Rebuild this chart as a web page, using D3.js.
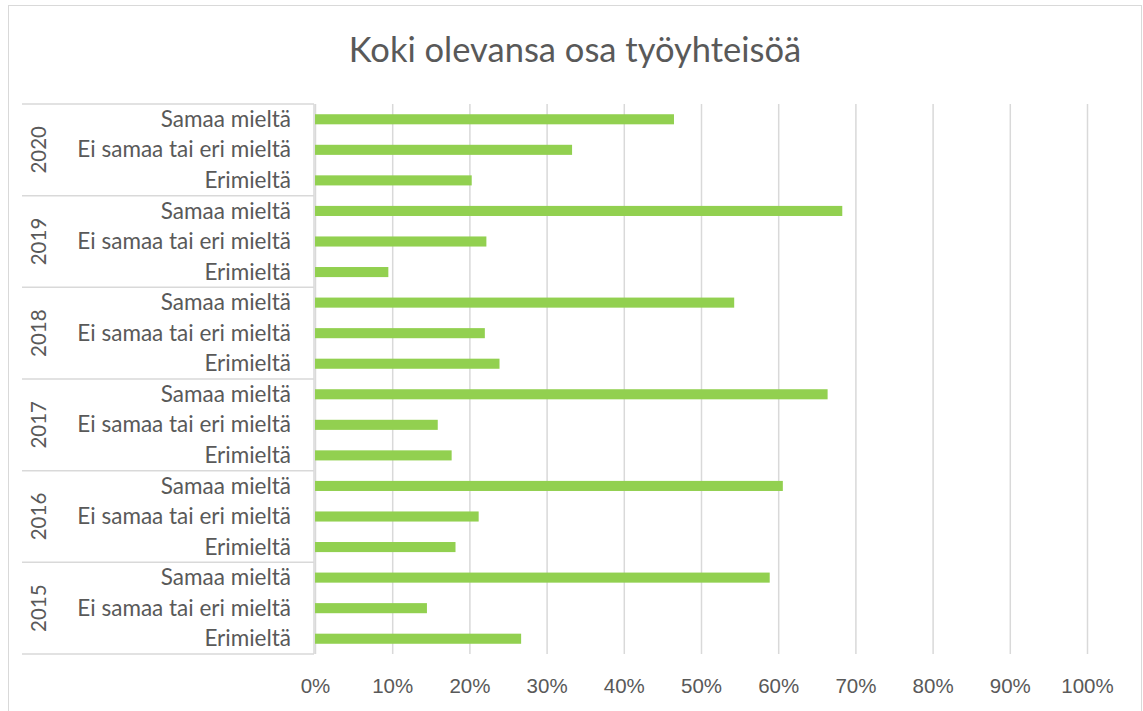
<!DOCTYPE html>
<html>
<head>
<meta charset="utf-8">
<script src="https://cdn.jsdelivr.net/npm/d3@7"></script>
<style>
  body { margin: 0; background: #fff; }
  svg { display: block; font-family: Lato, "Open Sans", sans-serif; }
</style>
</head>
<body>
<svg id="chart" width="1143" height="711"></svg>
<script>
const title = 'Koki olevansa osa työyhteisöä';
const years = ['2020', '2019', '2018', '2017', '2016', '2015'];
const answers = ['Samaa mieltä', 'Ei samaa tai eri mieltä', 'Erimieltä'];
// shares per year, same order as answers
const values = {
  2020: [0.465, 0.333, 0.203],
  2019: [0.683, 0.222, 0.095],
  2018: [0.543, 0.220, 0.239],
  2017: [0.664, 0.159, 0.177],
  2016: [0.606, 0.212, 0.182],
  2015: [0.589, 0.145, 0.267],
};
const xTicks = [0, 0.1, 0.2, 0.3, 0.4, 0.5, 0.6, 0.7, 0.8, 0.9, 1];

const svg = d3.select('#chart');
const W = 1143, H = 711;
const plot = { left: 315, right: 1087, top: 104, bottom: 654 };
const grey = '#d9d9d9';
const textCol = '#595959';

const rows = [];
years.forEach((y) => answers.forEach((a, i) => rows.push({ year: y, answer: a, value: values[y][i], key: y + '|' + a })));

const x = d3.scaleLinear().domain([0, 1]).range([plot.left, plot.right]);
const yBand = d3.scaleBand().domain(rows.map((r) => r.key)).range([plot.top, plot.bottom]).paddingInner(0.67).paddingOuter(0.335);
const yYear = d3.scaleBand().domain(years).range([plot.top, plot.bottom]);

// chart border
svg.append('rect')
  .attr('x', 8.5).attr('y', 5.5).attr('width', W - 10).attr('height', H + 10)
  .attr('fill', 'none').attr('stroke', grey);

svg.append('text')
  .attr('x', 575).attr('y', 62)
  .attr('text-anchor', 'middle')
  .attr('fill', textCol)
  .attr('font-size', 34.5)
  .text(title);

// gridlines + tick labels
const xAxis = d3.axisBottom(x).tickValues(xTicks).tickFormat(d3.format('.0%')).tickSize(-(plot.bottom - plot.top)).tickPadding(24);
const gx = svg.append('g').attr('transform', `translate(0,${plot.bottom})`).call(xAxis);
gx.select('.domain').remove();
gx.selectAll('.tick line').attr('stroke', grey).attr('stroke-width', 1.5);
gx.selectAll('.tick text').attr('fill', textCol).attr('font-size', 20.5).attr('font-family', 'inherit');

// category axis line
svg.append('line')
  .attr('x1', plot.left - 1).attr('x2', plot.left - 1)
  .attr('y1', plot.top).attr('y2', plot.bottom)
  .attr('stroke', grey).attr('stroke-width', 1.5);

// year separators
const seps = years.map((y) => yYear(y)).concat([plot.bottom]);
svg.append('g').selectAll('line').data(seps).join('line')
  .attr('x1', 22).attr('x2', plot.left - 1)
  .attr('y1', (d) => d).attr('y2', (d) => d)
  .attr('stroke', grey).attr('stroke-width', 1.5);

// year labels
svg.append('g').selectAll('text').data(years).join('text')
  .attr('transform', (d) => `translate(${46},${yYear(d) + yYear.bandwidth() / 2}) rotate(-90)`)
  .attr('text-anchor', 'middle')
  .attr('fill', textCol)
  .attr('font-size', 20.5)
  .text((d) => d);

// answer labels
svg.append('g').selectAll('text').data(rows).join('text')
  .attr('x', 291)
  .attr('y', (d) => yBand(d.key) + yBand.bandwidth() / 2)
  .attr('dy', '0.34em')
  .attr('text-anchor', 'end')
  .attr('fill', textCol)
  .attr('font-size', 22.5)
  .text((d) => d.answer);

// bars
svg.append('g').selectAll('rect').data(rows).join('rect')
  .attr('x', x(0))
  .attr('y', (d) => yBand(d.key))
  .attr('width', (d) => x(d.value) - x(0))
  .attr('height', yBand.bandwidth())
  .attr('fill', '#92d050');
</script>
</body>
</html>
